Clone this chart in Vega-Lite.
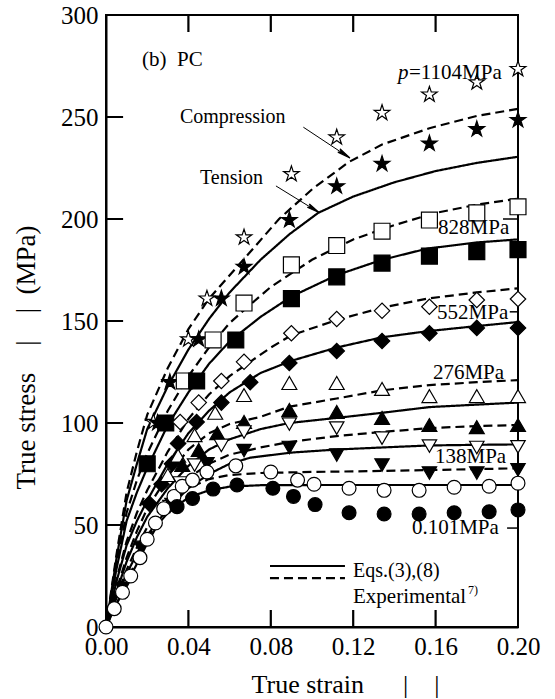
{
  "$schema": "https://vega.github.io/schema/vega-lite/v6.json",
  "width": 412,
  "height": 612,
  "autosize": "none",
  "padding": {"left": 106, "top": 15, "right": 37, "bottom": 72},
  "background": "white",
  "config": {
    "font": "Liberation Serif",
    "axis": {"labelFont": "Liberation Serif", "titleFont": "Liberation Serif", "domainColor": "black", "tickColor": "black", "labelColor": "black", "titleColor": "black", "grid": false, "titleFontWeight": "normal"},
    "view": {"stroke": "black", "strokeWidth": 2}
  },
  "datasets": {
    "curves": [
      {"p":"tb1","m":"T","x":0.04,"y":0},{"p":"tb1","m":"T","x":0.04,"y":8.3},{"p":"tb2","m":"T","x":0.08,"y":0},{"p":"tb2","m":"T","x":0.08,"y":8.3},{"p":"tb3","m":"T","x":0.12,"y":0},{"p":"tb3","m":"T","x":0.12,"y":8.3},{"p":"tb4","m":"T","x":0.16,"y":0},{"p":"tb4","m":"T","x":0.16,"y":8.3},
      {"p":"tt1","m":"T","x":0.04,"y":291.7},{"p":"tt1","m":"T","x":0.04,"y":300},{"p":"tt2","m":"T","x":0.08,"y":291.7},{"p":"tt2","m":"T","x":0.08,"y":300},{"p":"tt3","m":"T","x":0.12,"y":291.7},{"p":"tt3","m":"T","x":0.12,"y":300},{"p":"tt4","m":"T","x":0.16,"y":291.7},{"p":"tt4","m":"T","x":0.16,"y":300},
      {"p":"tl1","m":"T","x":0,"y":50},{"p":"tl1","m":"T","x":0.0083,"y":50},{"p":"tl2","m":"T","x":0,"y":100},{"p":"tl2","m":"T","x":0.0083,"y":100},{"p":"tl3","m":"T","x":0,"y":150},{"p":"tl3","m":"T","x":0.0083,"y":150},{"p":"tl4","m":"T","x":0,"y":200},{"p":"tl4","m":"T","x":0.0083,"y":200},{"p":"tl5","m":"T","x":0,"y":250},{"p":"tl5","m":"T","x":0.0083,"y":250},
      {"p":"1104","m":"T","x":0,"y":0},{"p":"1104","m":"T","x":0.005,"y":33},{"p":"1104","m":"T","x":0.01,"y":62},{"p":"1104","m":"T","x":0.015,"y":80},{"p":"1104","m":"T","x":0.02,"y":97},{"p":"1104","m":"T","x":0.03,"y":118},{"p":"1104","m":"T","x":0.04,"y":136},{"p":"1104","m":"T","x":0.05,"y":151},{"p":"1104","m":"T","x":0.06,"y":164},{"p":"1104","m":"T","x":0.075,"y":180},{"p":"1104","m":"T","x":0.089,"y":192.5},{"p":"1104","m":"T","x":0.103,"y":203},{"p":"1104","m":"T","x":0.12,"y":211},{"p":"1104","m":"T","x":0.14,"y":218},{"p":"1104","m":"T","x":0.16,"y":223.5},{"p":"1104","m":"T","x":0.18,"y":227.5},{"p":"1104","m":"T","x":0.2,"y":230.5},
      {"p":"1104","m":"C","x":0,"y":0},{"p":"1104","m":"C","x":0.005,"y":35},{"p":"1104","m":"C","x":0.01,"y":66},{"p":"1104","m":"C","x":0.015,"y":86},{"p":"1104","m":"C","x":0.02,"y":104},{"p":"1104","m":"C","x":0.03,"y":127},{"p":"1104","m":"C","x":0.04,"y":146},{"p":"1104","m":"C","x":0.05,"y":161},{"p":"1104","m":"C","x":0.0675,"y":181},{"p":"1104","m":"C","x":0.084,"y":200},{"p":"1104","m":"C","x":0.1005,"y":215},{"p":"1104","m":"C","x":0.118,"y":228},{"p":"1104","m":"C","x":0.134,"y":236.5},{"p":"1104","m":"C","x":0.157,"y":244.5},{"p":"1104","m":"C","x":0.18,"y":250.5},{"p":"1104","m":"C","x":0.2,"y":254},
      {"p":"828","m":"T","x":0,"y":0},{"p":"828","m":"T","x":0.005,"y":28},{"p":"828","m":"T","x":0.01,"y":52},{"p":"828","m":"T","x":0.015,"y":66},{"p":"828","m":"T","x":0.02,"y":78},{"p":"828","m":"T","x":0.03,"y":99},{"p":"828","m":"T","x":0.04,"y":115},{"p":"828","m":"T","x":0.05,"y":129},{"p":"828","m":"T","x":0.06,"y":140},{"p":"828","m":"T","x":0.075,"y":152},{"p":"828","m":"T","x":0.09,"y":162},{"p":"828","m":"T","x":0.112,"y":172.5},{"p":"828","m":"T","x":0.134,"y":180},{"p":"828","m":"T","x":0.156,"y":185.5},{"p":"828","m":"T","x":0.18,"y":188.5},{"p":"828","m":"T","x":0.2,"y":190},
      {"p":"828","m":"C","x":0,"y":0},{"p":"828","m":"C","x":0.005,"y":30},{"p":"828","m":"C","x":0.01,"y":56},{"p":"828","m":"C","x":0.015,"y":72},{"p":"828","m":"C","x":0.02,"y":85},{"p":"828","m":"C","x":0.03,"y":106},{"p":"828","m":"C","x":0.04,"y":123},{"p":"828","m":"C","x":0.05,"y":137},{"p":"828","m":"C","x":0.06,"y":149},{"p":"828","m":"C","x":0.07,"y":158},{"p":"828","m":"C","x":0.08,"y":166.7},{"p":"828","m":"C","x":0.1,"y":180},{"p":"828","m":"C","x":0.12,"y":190},{"p":"828","m":"C","x":0.14,"y":197},{"p":"828","m":"C","x":0.16,"y":203},{"p":"828","m":"C","x":0.18,"y":207},{"p":"828","m":"C","x":0.2,"y":210},
      {"p":"552","m":"T","x":0,"y":0},{"p":"552","m":"T","x":0.005,"y":22},{"p":"552","m":"T","x":0.01,"y":40},{"p":"552","m":"T","x":0.015,"y":52},{"p":"552","m":"T","x":0.02,"y":62},{"p":"552","m":"T","x":0.03,"y":80},{"p":"552","m":"T","x":0.04,"y":95},{"p":"552","m":"T","x":0.05,"y":106},{"p":"552","m":"T","x":0.06,"y":115},{"p":"552","m":"T","x":0.075,"y":124.5},{"p":"552","m":"T","x":0.09,"y":130.5},{"p":"552","m":"T","x":0.112,"y":137},{"p":"552","m":"T","x":0.134,"y":142},{"p":"552","m":"T","x":0.156,"y":145},{"p":"552","m":"T","x":0.18,"y":147.5},{"p":"552","m":"T","x":0.2,"y":149.5},
      {"p":"552","m":"C","x":0,"y":0},{"p":"552","m":"C","x":0.005,"y":23},{"p":"552","m":"C","x":0.01,"y":42},{"p":"552","m":"C","x":0.015,"y":56},{"p":"552","m":"C","x":0.02,"y":67},{"p":"552","m":"C","x":0.03,"y":86},{"p":"552","m":"C","x":0.04,"y":102},{"p":"552","m":"C","x":0.05,"y":114},{"p":"552","m":"C","x":0.06,"y":123},{"p":"552","m":"C","x":0.07,"y":130},{"p":"552","m":"C","x":0.08,"y":137},{"p":"552","m":"C","x":0.09,"y":143},{"p":"552","m":"C","x":0.112,"y":150.5},{"p":"552","m":"C","x":0.134,"y":156.5},{"p":"552","m":"C","x":0.156,"y":161},{"p":"552","m":"C","x":0.18,"y":164},{"p":"552","m":"C","x":0.2,"y":166},
      {"p":"276","m":"T","x":0,"y":0},{"p":"276","m":"T","x":0.005,"y":17},{"p":"276","m":"T","x":0.01,"y":32},{"p":"276","m":"T","x":0.015,"y":44},{"p":"276","m":"T","x":0.02,"y":54},{"p":"276","m":"T","x":0.03,"y":68},{"p":"276","m":"T","x":0.04,"y":79},{"p":"276","m":"T","x":0.05,"y":87},{"p":"276","m":"T","x":0.06,"y":92},{"p":"276","m":"T","x":0.075,"y":97},{"p":"276","m":"T","x":0.089,"y":100},{"p":"276","m":"T","x":0.112,"y":102.5},{"p":"276","m":"T","x":0.134,"y":105},{"p":"276","m":"T","x":0.157,"y":107.8},{"p":"276","m":"T","x":0.18,"y":109},{"p":"276","m":"T","x":0.2,"y":110},
      {"p":"276","m":"C","x":0,"y":0},{"p":"276","m":"C","x":0.005,"y":18},{"p":"276","m":"C","x":0.01,"y":34},{"p":"276","m":"C","x":0.015,"y":47},{"p":"276","m":"C","x":0.02,"y":58},{"p":"276","m":"C","x":0.03,"y":74},{"p":"276","m":"C","x":0.04,"y":87},{"p":"276","m":"C","x":0.05,"y":95},{"p":"276","m":"C","x":0.06,"y":99.5},{"p":"276","m":"C","x":0.075,"y":103},{"p":"276","m":"C","x":0.089,"y":108},{"p":"276","m":"C","x":0.112,"y":112},{"p":"276","m":"C","x":0.134,"y":116},{"p":"276","m":"C","x":0.157,"y":118.6},{"p":"276","m":"C","x":0.18,"y":120},{"p":"276","m":"C","x":0.2,"y":121},
      {"p":"138","m":"T","x":0,"y":0},{"p":"138","m":"T","x":0.005,"y":14},{"p":"138","m":"T","x":0.01,"y":26},{"p":"138","m":"T","x":0.015,"y":36},{"p":"138","m":"T","x":0.02,"y":45},{"p":"138","m":"T","x":0.03,"y":58},{"p":"138","m":"T","x":0.04,"y":68},{"p":"138","m":"T","x":0.05,"y":75},{"p":"138","m":"T","x":0.06,"y":80},{"p":"138","m":"T","x":0.07,"y":83},{"p":"138","m":"T","x":0.09,"y":85.5},{"p":"138","m":"T","x":0.112,"y":87},{"p":"138","m":"T","x":0.134,"y":88},{"p":"138","m":"T","x":0.157,"y":89},{"p":"138","m":"T","x":0.18,"y":89.3},{"p":"138","m":"T","x":0.2,"y":89.5},
      {"p":"138","m":"C","x":0,"y":0},{"p":"138","m":"C","x":0.005,"y":15},{"p":"138","m":"C","x":0.01,"y":28},{"p":"138","m":"C","x":0.015,"y":39},{"p":"138","m":"C","x":0.02,"y":49},{"p":"138","m":"C","x":0.03,"y":63},{"p":"138","m":"C","x":0.04,"y":73},{"p":"138","m":"C","x":0.05,"y":80},{"p":"138","m":"C","x":0.06,"y":84.5},{"p":"138","m":"C","x":0.075,"y":88},{"p":"138","m":"C","x":0.089,"y":90.7},{"p":"138","m":"C","x":0.112,"y":93.6},{"p":"138","m":"C","x":0.134,"y":95.6},{"p":"138","m":"C","x":0.157,"y":97.5},{"p":"138","m":"C","x":0.18,"y":98.5},{"p":"138","m":"C","x":0.2,"y":99},
      {"p":"0.101","m":"T","x":0,"y":0},{"p":"0.101","m":"T","x":0.005,"y":11},{"p":"0.101","m":"T","x":0.01,"y":21},{"p":"0.101","m":"T","x":0.015,"y":31},{"p":"0.101","m":"T","x":0.02,"y":41},{"p":"0.101","m":"T","x":0.025,"y":50},{"p":"0.101","m":"T","x":0.03,"y":56},{"p":"0.101","m":"T","x":0.04,"y":63.5},{"p":"0.101","m":"T","x":0.05,"y":67},{"p":"0.101","m":"T","x":0.06,"y":68.8},{"p":"0.101","m":"T","x":0.075,"y":69.5},{"p":"0.101","m":"T","x":0.1,"y":69.6},{"p":"0.101","m":"T","x":0.2,"y":69.6},
      {"p":"0.101","m":"C","x":0,"y":0},{"p":"0.101","m":"C","x":0.005,"y":11},{"p":"0.101","m":"C","x":0.01,"y":22},{"p":"0.101","m":"C","x":0.015,"y":33},{"p":"0.101","m":"C","x":0.02,"y":43},{"p":"0.101","m":"C","x":0.025,"y":52},{"p":"0.101","m":"C","x":0.03,"y":60},{"p":"0.101","m":"C","x":0.04,"y":68},{"p":"0.101","m":"C","x":0.05,"y":72.5},{"p":"0.101","m":"C","x":0.06,"y":74.5},{"p":"0.101","m":"C","x":0.075,"y":75.5},{"p":"0.101","m":"C","x":0.1,"y":76},{"p":"0.101","m":"C","x":0.134,"y":76.5},{"p":"0.101","m":"C","x":0.16,"y":77},{"p":"0.101","m":"C","x":0.2,"y":77.8}
    ],
    "points": [
      {"p":"Compression","m":"T","x":0.1184,"y":229.9},{"p":"Tension","m":"T","x":0.1034,"y":203.2},
      {"p":"1104","m":"C","x":0.023,"y":100.5},{"p":"1104","m":"C","x":0.04,"y":141},{"p":"1104","m":"C","x":0.049,"y":161},{"p":"1104","m":"C","x":0.067,"y":191},{"p":"1104","m":"C","x":0.09,"y":222},{"p":"1104","m":"C","x":0.112,"y":240},{"p":"1104","m":"C","x":0.134,"y":252},{"p":"1104","m":"C","x":0.157,"y":261},{"p":"1104","m":"C","x":0.18,"y":267},{"p":"1104","m":"C","x":0.2,"y":273.5},
      {"p":"1104","m":"T","x":0.025,"y":100},{"p":"1104","m":"T","x":0.031,"y":120},{"p":"1104","m":"T","x":0.045,"y":141},{"p":"1104","m":"T","x":0.056,"y":161},{"p":"1104","m":"T","x":0.067,"y":176.5},{"p":"1104","m":"T","x":0.089,"y":199.5},{"p":"1104","m":"T","x":0.112,"y":216},{"p":"1104","m":"T","x":0.134,"y":227},{"p":"1104","m":"T","x":0.157,"y":237},{"p":"1104","m":"T","x":0.18,"y":244},{"p":"1104","m":"T","x":0.2,"y":248.5},
      {"p":"828","m":"C","x":0.038,"y":120.6},{"p":"828","m":"C","x":0.052,"y":140.7},{"p":"828","m":"C","x":0.067,"y":158.8},{"p":"828","m":"C","x":0.09,"y":177.5},{"p":"828","m":"C","x":0.112,"y":187},{"p":"828","m":"C","x":0.134,"y":194},{"p":"828","m":"C","x":0.157,"y":199.5},{"p":"828","m":"C","x":0.18,"y":203},{"p":"828","m":"C","x":0.2,"y":206},
      {"p":"828","m":"T","x":0.02,"y":80},{"p":"828","m":"T","x":0.029,"y":100},{"p":"828","m":"T","x":0.044,"y":120.6},{"p":"828","m":"T","x":0.063,"y":140.7},{"p":"828","m":"T","x":0.09,"y":161},{"p":"828","m":"T","x":0.112,"y":171.6},{"p":"828","m":"T","x":0.134,"y":178.4},{"p":"828","m":"T","x":0.157,"y":181.8},{"p":"828","m":"T","x":0.18,"y":184},{"p":"828","m":"T","x":0.2,"y":185},
      {"p":"552","m":"C","x":0.036,"y":100.5},{"p":"552","m":"C","x":0.045,"y":110},{"p":"552","m":"C","x":0.056,"y":120.6},{"p":"552","m":"C","x":0.067,"y":130},{"p":"552","m":"C","x":0.09,"y":144},{"p":"552","m":"C","x":0.112,"y":151},{"p":"552","m":"C","x":0.134,"y":155},{"p":"552","m":"C","x":0.157,"y":157},{"p":"552","m":"C","x":0.18,"y":160.3},{"p":"552","m":"C","x":0.2,"y":160.8},
      {"p":"552","m":"T","x":0.021,"y":60.5},{"p":"552","m":"T","x":0.027,"y":70},{"p":"552","m":"T","x":0.032,"y":80},{"p":"552","m":"T","x":0.035,"y":90},{"p":"552","m":"T","x":0.044,"y":100.5},{"p":"552","m":"T","x":0.056,"y":110},{"p":"552","m":"T","x":0.07,"y":120},{"p":"552","m":"T","x":0.089,"y":129.4},{"p":"552","m":"T","x":0.112,"y":135.3},{"p":"552","m":"T","x":0.134,"y":140.2},{"p":"552","m":"T","x":0.157,"y":144},{"p":"552","m":"T","x":0.18,"y":146.6},{"p":"552","m":"T","x":0.2,"y":146.6},
      {"p":"276","m":"C","x":0.03,"y":74.5},{"p":"276","m":"C","x":0.035,"y":84},{"p":"276","m":"C","x":0.043,"y":94},{"p":"276","m":"C","x":0.053,"y":105},{"p":"276","m":"C","x":0.067,"y":113.7},{"p":"276","m":"C","x":0.089,"y":119.6},{"p":"276","m":"C","x":0.112,"y":119.6},{"p":"276","m":"C","x":0.134,"y":116.7},{"p":"276","m":"C","x":0.157,"y":113.2},{"p":"276","m":"C","x":0.18,"y":113.2},{"p":"276","m":"C","x":0.2,"y":113.2},
      {"p":"276","m":"T","x":0.037,"y":79.4},{"p":"276","m":"T","x":0.045,"y":86.8},{"p":"276","m":"T","x":0.054,"y":95},{"p":"276","m":"T","x":0.067,"y":100.5},{"p":"276","m":"T","x":0.089,"y":106.4},{"p":"276","m":"T","x":0.112,"y":105.4},{"p":"276","m":"T","x":0.134,"y":102.5},{"p":"276","m":"T","x":0.157,"y":99},{"p":"276","m":"T","x":0.18,"y":98},{"p":"276","m":"T","x":0.2,"y":99},
      {"p":"138","m":"C","x":0.031,"y":59},{"p":"138","m":"C","x":0.036,"y":70.6},{"p":"138","m":"C","x":0.043,"y":79.4},{"p":"138","m":"C","x":0.056,"y":89},{"p":"138","m":"C","x":0.067,"y":95.6},{"p":"138","m":"C","x":0.089,"y":99.5},{"p":"138","m":"C","x":0.112,"y":97.5},{"p":"138","m":"C","x":0.134,"y":92.6},{"p":"138","m":"C","x":0.157,"y":88.7},{"p":"138","m":"C","x":0.18,"y":88},{"p":"138","m":"C","x":0.2,"y":88.3},
      {"p":"138","m":"T","x":0.008,"y":19},{"p":"138","m":"T","x":0.017,"y":39},{"p":"138","m":"T","x":0.032,"y":60},{"p":"138","m":"T","x":0.049,"y":80},{"p":"138","m":"T","x":0.067,"y":86.5},{"p":"138","m":"T","x":0.089,"y":88},{"p":"138","m":"T","x":0.112,"y":84.3},{"p":"138","m":"T","x":0.134,"y":79.4},{"p":"138","m":"T","x":0.157,"y":75.5},{"p":"138","m":"T","x":0.18,"y":75.5},{"p":"138","m":"T","x":0.2,"y":77},
      {"p":"0.101","m":"C","x":0,"y":0},{"p":"0.101","m":"C","x":0.004,"y":9},{"p":"0.101","m":"C","x":0.008,"y":17},{"p":"0.101","m":"C","x":0.012,"y":25},{"p":"0.101","m":"C","x":0.0165,"y":34},{"p":"0.101","m":"C","x":0.02,"y":43},{"p":"0.101","m":"C","x":0.024,"y":51},{"p":"0.101","m":"C","x":0.028,"y":58},{"p":"0.101","m":"C","x":0.033,"y":64},{"p":"0.101","m":"C","x":0.037,"y":69},{"p":"0.101","m":"C","x":0.042,"y":72},{"p":"0.101","m":"C","x":0.049,"y":76},{"p":"0.101","m":"C","x":0.063,"y":79},{"p":"0.101","m":"C","x":0.08,"y":76},{"p":"0.101","m":"C","x":0.093,"y":72},{"p":"0.101","m":"C","x":0.101,"y":70},{"p":"0.101","m":"C","x":0.118,"y":68},{"p":"0.101","m":"C","x":0.135,"y":67},{"p":"0.101","m":"C","x":0.152,"y":67},{"p":"0.101","m":"C","x":0.169,"y":68.5},{"p":"0.101","m":"C","x":0.186,"y":69},{"p":"0.101","m":"C","x":0.2,"y":70.5},
      {"p":"0.101","m":"T","x":0.0345,"y":59},{"p":"0.101","m":"T","x":0.042,"y":63},{"p":"0.101","m":"T","x":0.052,"y":67.6},{"p":"0.101","m":"T","x":0.0636,"y":69.6},{"p":"0.101","m":"T","x":0.081,"y":68},{"p":"0.101","m":"T","x":0.091,"y":64},{"p":"0.101","m":"T","x":0.1015,"y":60},{"p":"0.101","m":"T","x":0.118,"y":56},{"p":"0.101","m":"T","x":0.135,"y":55.4},{"p":"0.101","m":"T","x":0.152,"y":55.4},{"p":"0.101","m":"T","x":0.169,"y":56},{"p":"0.101","m":"T","x":0.186,"y":56.5},{"p":"0.101","m":"T","x":0.2,"y":57.4}
    ]
  },
  "layer": [
    {
      "data": {"name": "curves"},
      "mark": {"type": "line", "color": "black", "strokeWidth": 2.2},
      "encoding": {
        "x": {"field": "x", "type": "quantitative", "scale": {"domain": [0, 0.2], "nice": false, "zero": false},
          "axis": {"values": [0, 0.04, 0.08, 0.12, 0.16, 0.2], "format": ".2f", "ticks": false, "domainWidth": 2, "labelFontSize": 25, "labelPadding": 7, "labelFlush": false, "labelOverlap": false,
            "title": "True strain\u2003\u2002|\u2003|", "titleFontSize": 26, "titleX": 239, "titleY": 65, "titleBaseline": "alphabetic", "titleAlign": "center"}},
        "y": {"field": "y", "type": "quantitative", "scale": {"domain": [0, 300], "nice": false},
          "axis": {"values": [0, 50, 100, 150, 200, 250, 300], "ticks": false, "domainWidth": 2, "labelFontSize": 25, "labelPadding": 8, "labelOverlap": false,
            "title": "True stress\u2003|\u2003|\u2002(MPa)", "titleFontSize": 27, "titleX": -80, "titleY": 342, "titleAngle": -90, "titleBaseline": "middle", "titleAlign": "center"}},
        "detail": {"field": "p"},
        "strokeDash": {"field": "m", "type": "nominal", "scale": {"domain": ["T", "C"], "range": [[1, 0], [9, 5]]}, "legend": null}
      }
    },
    {
      "data": {"values": [{"x": 0.1927, "x2": 0.2, "y": 200}, {"x": 0.196, "x2": 0.2, "y": 154.5}, {"x": 0.1947, "x2": 0.2, "y": 48.5}]},
      "mark": {"type": "rule", "color": "black", "strokeWidth": 1.5},
      "encoding": {"x": {"field": "x", "type": "quantitative"}, "x2": {"field": "x2"}, "y": {"field": "y", "type": "quantitative"}}
    },
    {
      "data": {"values": [{"m": "T", "x": 0.0796, "x2": 0.116, "y": 29.9}, {"m": "C", "x": 0.0796, "x2": 0.116, "y": 24.0}]},
      "mark": {"type": "rule", "color": "black", "strokeWidth": 2.2},
      "encoding": {
        "x": {"field": "x", "type": "quantitative"}, "x2": {"field": "x2"}, "y": {"field": "y", "type": "quantitative"},
        "strokeDash": {"field": "m", "type": "nominal", "legend": null}
      }
    },
    {
      "data": {"values": [{"n": "Compression", "x": 0.0958, "y": 245, "x2": 0.1184, "y2": 229.9}, {"n": "Tension", "x": 0.0825, "y": 216.2, "x2": 0.1034, "y2": 203.2}]},
      "mark": {"type": "rule", "color": "black", "strokeWidth": 1},
      "encoding": {"x": {"field": "x", "type": "quantitative"}, "y": {"field": "y", "type": "quantitative"}, "x2": {"field": "x2"}, "y2": {"field": "y2"}}
    },
    {
      "data": {"name": "points"},
      "mark": {"type": "point", "filled": true, "stroke": "black", "strokeWidth": 1.2, "opacity": 1},
      "encoding": {
        "x": {"field": "x", "type": "quantitative"},
        "y": {"field": "y", "type": "quantitative"},
        "shape": {"field": "p", "type": "nominal", "scale": {"domain": ["1104", "828", "552", "276", "138", "0.101", "Compression", "Tension"], "range": ["M0,-1L0.225,-0.309L0.951,-0.309L0.363,0.118L0.588,0.809L0,0.382L-0.588,0.809L-0.363,0.118L-0.951,-0.309L-0.225,-0.309Z", "square", "diamond", "triangle-up", "triangle-down", "circle", "M0,0L-1.816,-0.889L-1.276,-0.88L-1.476,-1.383Z", "M0,0L-1.846,-0.825L-1.305,-0.835L-1.522,-1.331Z"]}, "legend": null},
        "size": {"field": "p", "type": "nominal", "scale": {"domain": ["1104", "828", "552", "276", "138", "0.101", "Compression", "Tension"], "range": [270, 160, 225, 210, 210, 225, 520, 520]}, "legend": null},
        "fill": {"field": "m", "type": "nominal", "scale": {"domain": ["C", "T"], "range": ["white", "black"]}, "legend": null}
      }
    },
    {
      "data": {"values": [
        {"t": "Compression", "x": 0.0359, "y": 250},
        {"t": "Tension", "x": 0.0456, "y": 220.1},
        {"t": "Eqs.(3),(8)", "x": 0.1199, "y": 27.5}
      ]},
      "mark": {"type": "text", "align": "left", "baseline": "middle", "fontSize": 20, "font": "Liberation Serif", "color": "black"},
      "encoding": {"x": {"field": "x", "type": "quantitative"}, "y": {"field": "y", "type": "quantitative"}, "text": {"field": "t"}}
    },
    {
      "data": {"values": [
        {"t": "(b)\u2002PC", "x": 0.0175, "y": 278},
        {"t": "=1104MPa", "x": 0.1471, "y": 271.6},
        {"t": "828MPa", "x": 0.1612, "y": 195.6},
        {"t": "552MPa", "x": 0.1607, "y": 153.9},
        {"t": "276MPa", "x": 0.1587, "y": 124.5},
        {"t": "138MPa", "x": 0.1597, "y": 83.3},
        {"t": "0.101MPa", "x": 0.1485, "y": 48.5},
        {"t": "Experimental", "x": 0.1199, "y": 14.5}
      ]},
      "mark": {"type": "text", "align": "left", "baseline": "middle", "fontSize": 21, "font": "Liberation Serif", "color": "black"},
      "encoding": {"x": {"field": "x", "type": "quantitative"}, "y": {"field": "y", "type": "quantitative"}, "text": {"field": "t"}}
    },
    {
      "data": {"values": [{"t": "p", "x": 0.1417, "y": 271.6}]},
      "mark": {"type": "text", "align": "left", "baseline": "middle", "fontSize": 21, "fontStyle": "italic", "font": "Liberation Serif", "color": "black"},
      "encoding": {"x": {"field": "x", "type": "quantitative"}, "y": {"field": "y", "type": "quantitative"}, "text": {"field": "t"}}
    },
    {
      "data": {"values": [{"t": "7)", "x": 0.1757, "y": 18.1}]},
      "mark": {"type": "text", "align": "left", "baseline": "middle", "fontSize": 12, "font": "Liberation Serif", "color": "black"},
      "encoding": {"x": {"field": "x", "type": "quantitative"}, "y": {"field": "y", "type": "quantitative"}, "text": {"field": "t"}}
    }
  ]
}
